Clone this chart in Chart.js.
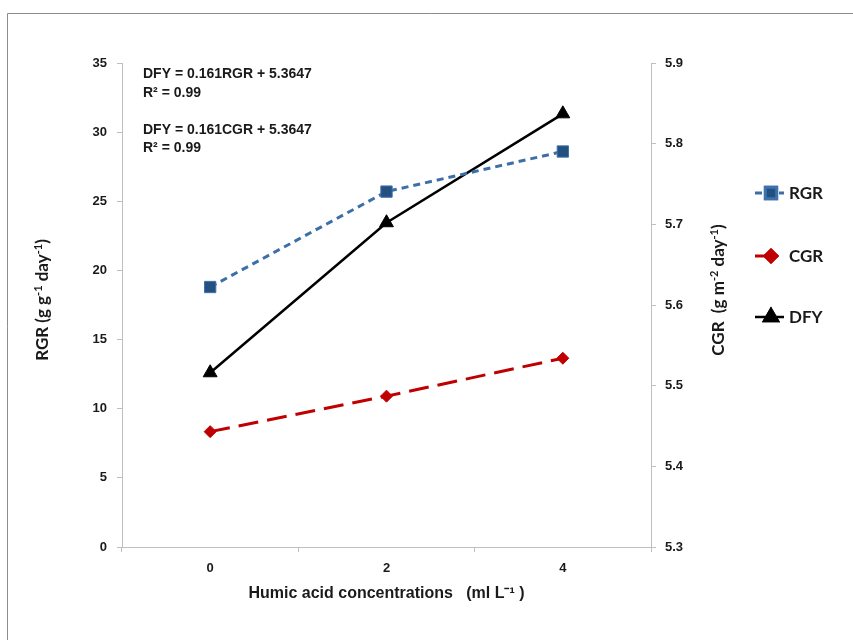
<!DOCTYPE html>
<html>
<head>
<meta charset="utf-8">
<script src="https://cdn.jsdelivr.net/npm/chart.js"></script>
<style>
  body { margin: 0; background: #fff; }
  #wrap { position: absolute; left: 0; top: 0; width: 853px; height: 640px; }
</style>
</head>
<body>
<div id="wrap"><canvas id="myChart" width="853" height="640"></canvas></div>
<script>
var categories = ['0', '2', '4']
var rgr = [18.8, 25.7, 28.6]
var cgr = [5.443, 5.487, 5.534]
var dfy = [5.516, 5.702, 5.837]
var rgrTicks = [0, 5, 10, 15, 20, 25, 30, 35]
var cgrTicks = [5.3, 5.4, 5.5, 5.6, 5.7, 5.8, 5.9]
var notes = ['DFY = 0.161RGR + 5.3647', 'R² = 0.99', 'DFY = 0.161CGR + 5.3647', 'R² = 0.99']
// title pieces, odd entries are superscripts
var leftTitle = ['RGR (g g', '-1', ' day', '-1', ')']
var rightTitle = ['CGR  (g m', '-2', ' day', '-1', ')']

var tickFont = { family: 'Liberation Sans', weight: 'bold', size: 13 }
var axisGray = '#bfbfbf'

function drawSupText(ctx, parts, cx, cy){
	var big = 'bold 17px Lato', small = 'bold 11px Lato'
	var w = 0
	parts.forEach(function(p, i){
		ctx.font = i % 2 ? small : big
		w += ctx.measureText(p).width
	})
	var x = cx - w / 2
	ctx.textAlign = 'left'
	ctx.textBaseline = 'alphabetic'
	parts.forEach(function(p, i){
		ctx.font = i % 2 ? small : big
		ctx.fillText(p, x, i % 2 ? cy - 6 : cy)
		x += ctx.measureText(p).width
	})
}

// frame, equations, axis titles and legend drawn on top
var extras = {
	id: 'extras',
	afterDraw: function(chart){
		var ctx = chart.ctx
		ctx.save()
		ctx.strokeStyle = '#8c8c8c'
		ctx.lineWidth = 1
		ctx.beginPath()
		ctx.moveTo(7.5, 640)
		ctx.lineTo(7.5, 13.5)
		ctx.lineTo(853, 13.5)
		ctx.stroke()

		ctx.fillStyle = '#1a1a1a'
		ctx.font = 'bold 14px "Liberation Sans"'
		ctx.textBaseline = 'middle'
		var ys = [74, 93, 130, 148]
		for (var i = 0; i < notes.length; i++) {
			ctx.fillText(notes[i], 143, ys[i])
		}

		ctx.save()
		ctx.translate(48, 300)
		ctx.rotate(-Math.PI / 2)
		drawSupText(ctx, leftTitle, 0, 0)
		ctx.restore()

		ctx.save()
		ctx.translate(724, 290)
		ctx.rotate(-Math.PI / 2)
		drawSupText(ctx, rightTitle, 0, 0)
		ctx.restore()

		var ly = [193, 256, 317]
		chart.data.datasets.forEach(function(ds, k){
			ctx.save()
			ctx.strokeStyle = ds.borderColor
			ctx.lineWidth = ds.borderWidth
			ctx.setLineDash(ds.borderDash || [])
			ctx.beginPath()
			ctx.moveTo(755, ly[k])
			ctx.lineTo(784, ly[k])
			ctx.stroke()
			ctx.setLineDash([])
			Chart.helpers.drawPoint(ctx, {
				pointStyle: ds.pointStyle,
				radius: ds.pointRadius,
				borderWidth: 1
			}, 771, ly[k])
			ctx.fillStyle = ds.pointBackgroundColor
			ctx.strokeStyle = ds.pointBorderColor
			ctx.fill()
			ctx.stroke()
			ctx.restore()
			ctx.fillStyle = '#1a1a1a'
			ctx.font = 'bold 17px Lato'
			ctx.textAlign = 'left'
			ctx.textBaseline = 'middle'
			ctx.fillText(ds.label, 789, ly[k] + 1)
		})
		ctx.restore()
	}
}

var mychart = document.getElementById('myChart').getContext('2d')

var chart = new Chart(mychart, {
	type: 'line',
	data: {
		labels: categories,
		datasets: [
			{
				label: 'RGR',
				data: rgr,
				yAxisID: 'y',
				borderColor: '#3c6ea8',
				borderWidth: 3,
				borderDash: [7, 5],
				pointStyle: 'rect',
				pointRadius: 8,
				pointBackgroundColor: '#24507f',
				pointBorderColor: '#3f72ad',
				pointBorderWidth: 1
			},
			{
				label: 'CGR',
				data: cgr,
				yAxisID: 'y1',
				borderColor: '#c00000',
				borderWidth: 3,
				borderDash: [20, 9],
				pointStyle: 'rectRot',
				pointRadius: 6,
				pointBackgroundColor: '#c00000',
				pointBorderColor: '#c00000',
				pointBorderWidth: 1
			},
			{
				label: 'DFY',
				data: dfy,
				yAxisID: 'y1',
				borderColor: '#000000',
				borderWidth: 2.5,
				pointStyle: 'triangle',
				pointRadius: 8,
				pointBackgroundColor: '#000000',
				pointBorderColor: '#000000',
				pointBorderWidth: 1
			}
		]
	},
	options: {
		responsive: false,
		animation: false,
		layout: { padding: { top: 63, left: 0, right: 0, bottom: 0 } },
		plugins: { legend: { display: false }, tooltip: { enabled: false } },
		scales: {
			x: {
				offset: true,
				grid: { display: true, offset: true, drawOnChartArea: false, tickLength: 5, color: axisGray },
				border: { color: axisGray },
				ticks: { font: tickFont, color: '#1a1a1a', padding: 9 },
				title: {
					display: true,
					text: 'Humic acid concentrations   (ml L⁻¹ )',
					font: { family: 'Liberation Sans', weight: 'bold', size: 16 },
					color: '#1a1a1a',
					padding: { top: 0, bottom: 37 }
				},
				afterFit: function(scale){ scale.height = 93 }
			},
			y: {
				position: 'left',
				min: 0,
				max: 35,
				afterBuildTicks: function(scale){ scale.ticks = rgrTicks.map(function(v){ return { value: v } }) },
				grid: { drawOnChartArea: false, tickLength: 5, color: axisGray },
				border: { color: axisGray },
				ticks: { font: tickFont, color: '#1a1a1a', padding: 10 },
				afterFit: function(scale){ scale.width = 122 }
			},
			y1: {
				position: 'right',
				min: 5.3,
				max: 5.9,
				afterBuildTicks: function(scale){ scale.ticks = cgrTicks.map(function(v){ return { value: v } }) },
				grid: { drawOnChartArea: false, tickLength: 5, color: axisGray },
				border: { color: axisGray },
				ticks: {
					font: tickFont, color: '#1a1a1a', padding: 9,
					callback: function(v){ return v.toFixed(1) }
				},
				afterFit: function(scale){ scale.width = 202 }
			}
		}
	},
	plugins: [extras]
})
</script>
</body>
</html>
